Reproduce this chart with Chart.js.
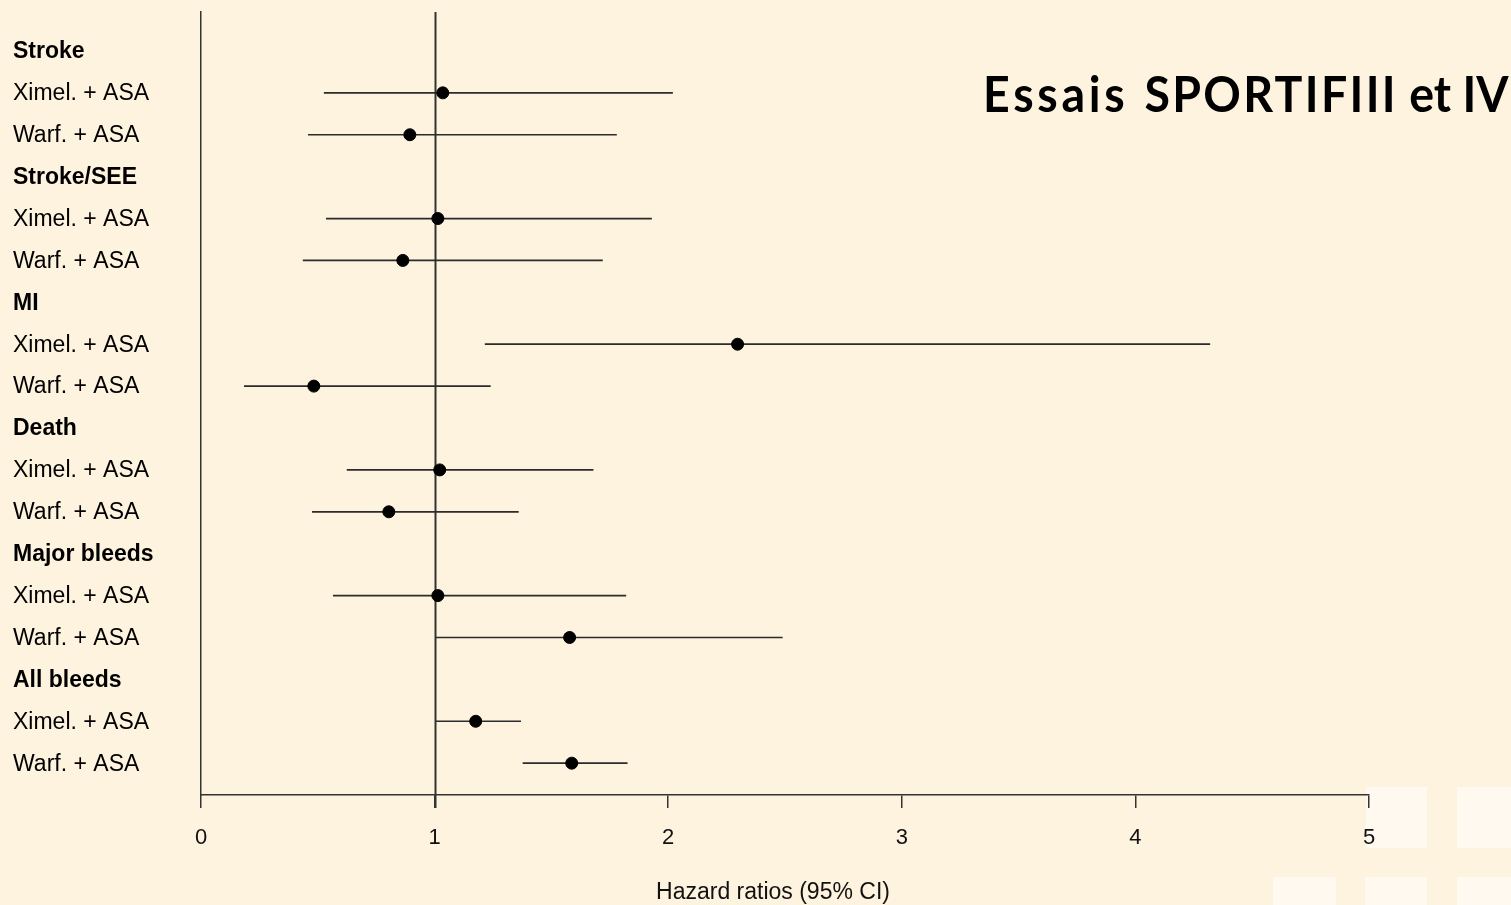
<!DOCTYPE html>
<html>
<head>
<meta charset="utf-8">
<script src="https://cdn.jsdelivr.net/npm/chart.js@4"></script>
<style>
  html, body { margin: 0; padding: 0; background: #fef3de; overflow: hidden; }
  #wrap { position: relative; width: 1511px; height: 905px; }
  .sq { position: absolute; background: #fff9ef; }
  #c { position: absolute; left: 0; top: 0; }
  #title { position: absolute; left: 983px; top: 68px; font-family: Lato, sans-serif; font-weight: bold; font-size: 50px; color: #000; white-space: nowrap; line-height: 1; transform: scaleX(0.93); transform-origin: 0 0; }
</style>
</head>
<body>
<div id="wrap">
  <div class="sq" style="left:1366px;top:787px;width:61px;height:61px"></div>
  <div class="sq" style="left:1457px;top:787px;width:60px;height:61px"></div>
  <div class="sq" style="left:1273px;top:877px;width:63px;height:40px"></div>
  <div class="sq" style="left:1365px;top:877px;width:62px;height:40px"></div>
  <div class="sq" style="left:1457px;top:877px;width:60px;height:40px"></div>
  <canvas id="c" width="1511" height="905"></canvas>
  <div id="title"><span style="letter-spacing:4px">Essais</span> <span style="letter-spacing:2.5px;margin-left:5px">SPORTIFIII</span> <span style="letter-spacing:0px">et IV</span></div>
</div>
<script>
const rowLabels = ["Stroke","Ximel. + ASA","Warf. + ASA","Stroke/SEE","Ximel. + ASA","Warf. + ASA","MI","Ximel. + ASA","Warf. + ASA","Death","Ximel. + ASA","Warf. + ASA","Major bleeds","Ximel. + ASA","Warf. + ASA","All bleeds","Ximel. + ASA","Warf. + ASA"];
const isHeader = [true,false,false,true,false,false,true,false,false,true,false,false,true,false,false,true,false,false];
const hr   = [null,1.035,0.894,null,1.014,0.864,null,2.297,0.483,null,1.022,0.804,null,1.014,1.578,null,1.176,1.587];
const ciLo = [null,0.526,0.458,null,0.535,0.436,null,1.215,0.184,null,0.624,0.475,null,0.565,1.005,null,1.005,1.377];
const ciHi = [null,2.020,1.780,null,1.930,1.720,null,4.320,1.240,null,1.680,1.360,null,1.820,2.490,null,1.370,1.826];
const xTicks = [0,1,2,3,4,5];
const xTitle = "Hazard ratios (95% CI)";

const datasets = [];
rowLabels.forEach((lab, i) => {
  if (hr[i] === null) return;
  datasets.push({
    type: 'scatter', showLine: true, data: [{x: ciLo[i], y: i}, {x: ciHi[i], y: i}],
    borderColor: '#2b2b2b', borderWidth: 1.7, pointRadius: 0, pointHoverRadius: 0, order: 2
  });
});
datasets.push({
  type: 'scatter',
  data: hr.map((v, i) => v === null ? null : {x: v, y: i}).filter(p => p),
  backgroundColor: '#000', borderColor: '#000', pointRadius: 6, pointHoverRadius: 6, order: 1
});

const refLine = {
  id: 'refLine',
  beforeDatasetsDraw(chart) {
    const {ctx, chartArea, scales: {x}} = chart;
    const px = Math.round(x.getPixelForValue(1)) + 0.5;
    ctx.save();
    ctx.strokeStyle = '#333'; ctx.lineWidth = 2;
    ctx.beginPath(); ctx.moveTo(px, chartArea.top); ctx.lineTo(px, chartArea.bottom + 13); ctx.stroke();
    ctx.restore();
  }
};
const rowText = {
  id: 'rowText',
  afterDraw(chart) {
    const {ctx, chartArea, scales: {y}} = chart;
    ctx.save();
    ctx.fillStyle = '#000'; ctx.textAlign = 'left'; ctx.textBaseline = 'middle';
    rowLabels.forEach((lab, i) => {
      ctx.font = (isHeader[i] ? 'bold ' : '') + '23px "Liberation Sans", Arial, sans-serif';
      ctx.fillText(lab, 13, y.getPixelForValue(i) + 1);
    });
    ctx.font = '23px "Liberation Sans", Arial, sans-serif';
    ctx.fillStyle = '#111'; ctx.textAlign = 'center';
    ctx.fillText(xTitle, 773, 893);
    ctx.restore();
  }
};

new Chart(document.getElementById('c'), {
  type: 'scatter',
  data: { datasets },
  options: {
    responsive: false, animation: false, events: [],
    layout: { padding: { left: 193, right: 142, top: 12, bottom: 0 } },
    plugins: { legend: { display: false }, tooltip: { enabled: false } },
    scales: {
      x: {
        type: 'linear', min: 0, max: 5,
        afterBuildTicks: s => { s.ticks = xTicks.map(v => ({value: v})); },
        afterFit: s => { s.height = 110; },
        grid: { display: true, drawOnChartArea: false, tickLength: 13, color: '#333', lineWidth: 1.5 },
        border: { display: true, color: '#333', width: 1.5 },
        ticks: { color: '#111', padding: 17, font: { family: '"Liberation Sans", Arial, sans-serif', size: 22 } },
        title: { display: false }
      },
      y: {
        type: 'linear', reverse: true, min: -0.93, max: 17.76,
        grid: { display: false }, ticks: { display: false },
        border: { display: true, color: '#333', width: 1.5 }
      }
    }
  },
  plugins: [refLine, rowText]
});
</script>
</body>
</html>
